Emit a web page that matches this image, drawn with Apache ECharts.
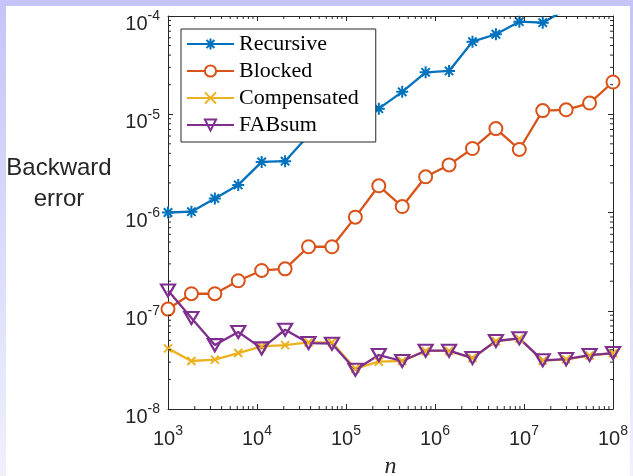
<!DOCTYPE html>
<html>
<head>
<meta charset="utf-8">
<script src="https://cdn.jsdelivr.net/npm/echarts@6/dist/echarts.min.js"></script>
<style>
  html, body { margin: 0; padding: 0; }
  #chart { width: 633px; height: 476px; }
</style>
</head>
<body>
<div id="chart"></div>
<script>
// Problem sizes n (log-spaced from 1e3 to 1e8)
const nValues = [1000, 1833, 3360, 6158, 11288, 20691, 37927, 69519, 127427, 233572,
  428133, 784760, 1438450, 2636651, 4832930, 8858668, 16237767, 29763514, 54555948, 100000000];

// Backward error of each summation method
const recursive = [1.0e-6, 1.02e-6, 1.39e-6, 1.91e-6, 3.27e-6, 3.33e-6, 6.1e-6, 6.6e-6, 8.9e-6, 1.14e-5,
  1.69e-5, 2.67e-5, 2.76e-5, 5.48e-5, 6.52e-5, 8.75e-5, 8.56e-5, 1.17e-4, 1.4e-4, 1.7e-4];
const blocked = [1.04e-7, 1.49e-7, 1.49e-7, 2.02e-7, 2.57e-7, 2.67e-7, 4.48e-7, 4.48e-7, 8.97e-7, 1.87e-6,
  1.15e-6, 2.31e-6, 3.05e-6, 4.48e-6, 7.14e-6, 4.38e-6, 1.09e-5, 1.11e-5, 1.30e-5, 2.13e-5];
const compensated = [4.14e-8, 3.08e-8, 3.18e-8, 3.71e-8, 4.33e-8, 4.47e-8, 4.76e-8, 4.76e-8, 2.57e-8, 3.03e-8,
  3.08e-8, 3.9e-8, 3.9e-8, 3.3e-8, 4.9e-8, 5.2e-8, 3.1e-8, 3.2e-8, 3.5e-8, 3.7e-8];
const fabsum = [1.61e-7, 8.42e-8, 4.47e-8, 6.07e-8, 4.14e-8, 6.41e-8, 4.69e-8, 4.62e-8, 2.51e-8, 3.54e-8,
  3.08e-8, 3.92e-8, 3.92e-8, 3.30e-8, 4.92e-8, 5.24e-8, 3.13e-8, 3.22e-8, 3.54e-8, 3.71e-8];

const seriesNames = ['Recursive', 'Blocked', 'Compensated', 'FABsum'];
const seriesColors = ['#0072BD', '#D95319', '#EDB120', '#7E2F8E'];

// Axis ranges (powers of ten)
const xMinExp = 3, xMaxExp = 8;
const yMinExp = -8, yMaxExp = -4;
const minorMultipliers = [2, 3, 4, 5, 6, 7, 8, 9];

const axisColor = '#262626';
const sansFont = '"Liberation Sans", Arial, Helvetica, sans-serif';
const serifFont = '"Liberation Serif", "Times New Roman", serif';

// Minor tick positions on both log axes
const minorTicks = [];
for (let e = xMinExp; e < xMaxExp; e++) {
  minorMultipliers.forEach(m => minorTicks.push([m * Math.pow(10, e), Math.pow(10, yMinExp), 0]));
}
for (let e = yMinExp; e < yMaxExp; e++) {
  minorMultipliers.forEach(m => minorTicks.push([Math.pow(10, xMinExp), m * Math.pow(10, e), 1]));
}

function pairs(ys) { return nValues.map((x, i) => [x, ys[i]]); }

function powLabel(v) {
  const e = Math.round(Math.log10(v));
  return '{b|10}{s|' + e + '}';
}
const labelRich = {
  b: { fontSize: 20, fontFamily: sansFont, color: axisColor, verticalAlign: 'bottom', padding: [5, 0, 0, 0] },
  s: { fontSize: 14, fontFamily: sansFont, color: axisColor, verticalAlign: 'top' }
};

const asteriskPath = 'path://M5,0 L5,10 M0,5 L10,5 M1.5,1.5 L8.5,8.5 M1.5,8.5 L8.5,1.5';
const crossPath = 'path://M0,0 L10,10 M0,10 L10,0';
const triDownPath = 'path://M0,0 L10,0 L5,8.66 Z';

const chart = echarts.init(document.getElementById('chart'), null, { renderer: 'canvas' });

const baseX = {
  type: 'log', logBase: 10,
  min: Math.pow(10, xMinExp), max: Math.pow(10, xMaxExp),
  splitNumber: xMaxExp - xMinExp,
  splitLine: { show: false },
  axisLine: { show: true, lineStyle: { color: axisColor, width: 1 } },
  axisTick: { show: true, inside: true, length: 5, lineStyle: { color: axisColor } }
};
const baseY = {
  type: 'log', logBase: 10,
  min: Math.pow(10, yMinExp), max: Math.pow(10, yMaxExp),
  splitNumber: yMaxExp - yMinExp,
  splitLine: { show: false },
  axisLine: { show: true, lineStyle: { color: axisColor, width: 1 } },
  axisTick: { show: true, inside: true, length: 5, lineStyle: { color: axisColor } }
};

const lineWidth = 2.3;

const option = {
  backgroundColor: {
    type: 'linear', x: 0, y: 0, x2: 0, y2: 1,
    colorStops: [{ offset: 0, color: '#c4c4fa' }, { offset: 1, color: '#f0f0fd' }]
  },
  animation: false,
  graphic: [
    { type: 'rect', left: 6, top: 6, z: -10, shape: { width: 624, height: 470 }, style: { fill: '#ffffff' } },
    {
      type: 'text', z: 10,
      style: {
        text: 'Backward\nerror', x: 59, y: 184, align: 'center', verticalAlign: 'middle',
        font: '24px ' + sansFont, fill: axisColor, lineHeight: 31
      }
    }
  ],
  grid: { left: 168, right: 20, top: 16, bottom: 67, containLabel: false, outerBoundsMode: 'none' },
  xAxis: [
    Object.assign({}, baseX, {
      position: 'bottom',
      name: 'n', nameLocation: 'middle', nameGap: 46,
      nameTextStyle: { fontFamily: serifFont, fontStyle: 'italic', fontSize: 24, color: axisColor },
      axisLabel: { show: true, margin: 15, formatter: powLabel, rich: labelRich }
    }),
    Object.assign({}, baseX, { position: 'top', axisLabel: { show: false } })
  ],
  yAxis: [
    Object.assign({}, baseY, {
      position: 'left',
      axisLabel: { show: true, margin: 8, formatter: powLabel, rich: labelRich, padding: [12, 0, 0, 0] }
    }),
    Object.assign({}, baseY, { position: 'right', axisLabel: { show: false } })
  ],
  legend: {
    data: seriesNames,
    orient: 'vertical',
    left: 181, top: 29,
    padding: [4, 17, 6, 5],
    itemWidth: 47, itemHeight: 14, itemGap: 5,
    backgroundColor: '#ffffff',
    borderColor: axisColor, borderWidth: 1, borderRadius: 0,
    textStyle: { fontFamily: serifFont, fontSize: 22, color: '#000000' }
  },
  series: [
    {
      type: 'custom', silent: true, clip: false, z: 5,
      data: minorTicks,
      renderItem: function (params, api) {
        const kind = api.value(2);
        let a, b;
        if (kind === 0) {
          a = api.coord([api.value(0), Math.pow(10, yMinExp)]);
          b = api.coord([api.value(0), Math.pow(10, yMaxExp)]);
          return { type: 'group', children: [
            { type: 'line', shape: { x1: a[0], y1: a[1], x2: a[0], y2: a[1] - 3 }, style: { stroke: axisColor, lineWidth: 1 } },
            { type: 'line', shape: { x1: b[0], y1: b[1], x2: b[0], y2: b[1] + 3 }, style: { stroke: axisColor, lineWidth: 1 } }
          ] };
        }
        a = api.coord([Math.pow(10, xMinExp), api.value(1)]);
        b = api.coord([Math.pow(10, xMaxExp), api.value(1)]);
        return { type: 'group', children: [
          { type: 'line', shape: { x1: a[0], y1: a[1], x2: a[0] + 3, y2: a[1] }, style: { stroke: axisColor, lineWidth: 1 } },
          { type: 'line', shape: { x1: b[0], y1: b[1], x2: b[0] - 3, y2: b[1] }, style: { stroke: axisColor, lineWidth: 1 } }
        ] };
      }
    },
    {
      name: seriesNames[0], type: 'line', data: pairs(recursive),
      symbol: asteriskPath, symbolSize: 12,
      lineStyle: { color: seriesColors[0], width: lineWidth },
      itemStyle: { color: seriesColors[0], borderColor: seriesColors[0], borderWidth: 2 }
    },
    {
      name: seriesNames[1], type: 'line', data: pairs(blocked),
      symbol: 'emptyCircle', symbolSize: 13,
      lineStyle: { color: seriesColors[1], width: lineWidth },
      itemStyle: { color: seriesColors[1], borderColor: seriesColors[1], borderWidth: 2.2 }
    },
    {
      name: seriesNames[2], type: 'line', data: pairs(compensated),
      symbol: crossPath, symbolSize: 8,
      lineStyle: { color: seriesColors[2], width: lineWidth },
      itemStyle: { color: seriesColors[2], borderColor: seriesColors[2], borderWidth: 2 }
    },
    {
      name: seriesNames[3], type: 'line', data: pairs(fabsum),
      symbol: triDownPath, symbolSize: [14, 12],
      lineStyle: { color: seriesColors[3], width: lineWidth },
      itemStyle: { color: 'rgba(255,255,255,0)', borderColor: seriesColors[3], borderWidth: 2.2 }
    }
  ]
};

chart.setOption(option);
</script>
</body>
</html>
